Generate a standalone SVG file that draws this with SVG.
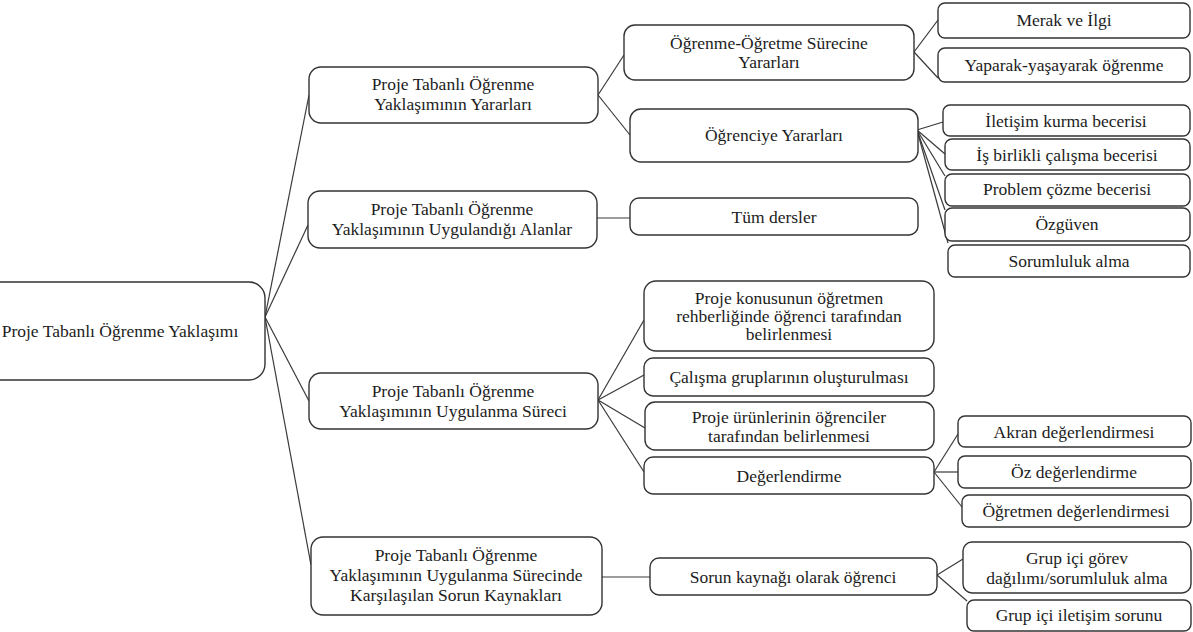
<svg xmlns="http://www.w3.org/2000/svg" width="1193" height="632" viewBox="0 0 1193 632">
<style>
.n{fill:#fff;stroke:#333;stroke-width:1.4}
.t{font-family:"Liberation Serif","Times New Roman",serif;font-size:17.5px;fill:#1c1c1c;text-anchor:middle}
.c line{stroke:#3a3a3a;stroke-width:1.2}
</style>
<rect width="1193" height="632" fill="#fff"/>
<g class="c" id="connectors">
<line x1="265" y1="317" x2="309" y2="95"/>
<line x1="265" y1="317" x2="308" y2="225"/>
<line x1="265" y1="317" x2="309" y2="401"/>
<line x1="265" y1="317" x2="311" y2="565"/>
<line x1="598" y1="95" x2="624" y2="55"/>
<line x1="598" y1="95" x2="630" y2="135"/>
<line x1="914" y1="52" x2="938" y2="20"/>
<line x1="914" y1="52" x2="938" y2="78"/>
<line x1="917" y1="130" x2="943" y2="122"/>
<line x1="917" y1="130" x2="945" y2="154"/>
<line x1="917" y1="130" x2="945" y2="176"/>
<line x1="917" y1="130" x2="945" y2="210"/>
<line x1="917" y1="130" x2="948" y2="243"/>
<line x1="597" y1="218" x2="630" y2="218"/>
<line x1="598" y1="400" x2="644" y2="320"/>
<line x1="598" y1="400" x2="644" y2="375"/>
<line x1="598" y1="400" x2="645" y2="428"/>
<line x1="598" y1="400" x2="644" y2="472"/>
<line x1="934" y1="472" x2="958" y2="434"/>
<line x1="934" y1="472" x2="958" y2="472"/>
<line x1="934" y1="472" x2="962" y2="507"/>
<line x1="602" y1="577" x2="650" y2="577"/>
<line x1="937" y1="575" x2="963" y2="559"/>
<line x1="937" y1="575" x2="967" y2="601"/>
</g>
<g id="root"><rect class="n" x="-20" y="282" width="285" height="98" rx="16"/><text class="t" x="120" y="337">Proje Tabanlı Öğrenme Yaklaşımı</text></g>
<g id="yararlar"><rect class="n" x="309" y="67" width="289" height="56" rx="12"/><text class="t" x="453" y="90">Proje Tabanlı Öğrenme</text><text class="t" x="453" y="110">Yaklaşımının Yararları</text></g>
<g id="alanlar"><rect class="n" x="308" y="191" width="289" height="57" rx="12"/><text class="t" x="452" y="215">Proje Tabanlı Öğrenme</text><text class="t" x="452" y="235">Yaklaşımının Uygulandığı Alanlar</text></g>
<g id="surec"><rect class="n" x="309" y="373" width="289" height="56" rx="12"/><text class="t" x="453" y="397">Proje Tabanlı Öğrenme</text><text class="t" x="453" y="417">Yaklaşımının Uygulanma Süreci</text></g>
<g id="sorunlar"><rect class="n" x="311" y="537" width="291" height="78" rx="12"/><text class="t" x="456" y="561">Proje Tabanlı Öğrenme</text><text class="t" x="456" y="581">Yaklaşımının Uygulanma Sürecinde</text><text class="t" x="456" y="601">Karşılaşılan Sorun Kaynakları</text></g>
<g id="ogrenme-ogretme"><rect class="n" x="624" y="25" width="290" height="55" rx="11"/><text class="t" x="769" y="49">Öğrenme-Öğretme Sürecine</text><text class="t" x="769" y="68">Yararları</text></g>
<g id="merak"><rect class="n" x="938" y="3" width="252" height="35" rx="7"/><text class="t" x="1064" y="26">Merak ve İlgi</text></g>
<g id="yaparak"><rect class="n" x="938" y="48" width="252" height="34" rx="7"/><text class="t" x="1064" y="71">Yaparak-yaşayarak öğrenme</text></g>
<g id="ogrenciye"><rect class="n" x="630" y="109" width="288" height="53" rx="11"/><text class="t" x="774" y="141">Öğrenciye Yararları</text></g>
<g id="iletisim"><rect class="n" x="943" y="105" width="247" height="31" rx="7"/><text class="t" x="1066" y="127">İletişim kurma becerisi</text></g>
<g id="isbirlikli"><rect class="n" x="945" y="139" width="245" height="31" rx="7"/><text class="t" x="1067" y="161">İş birlikli çalışma becerisi</text></g>
<g id="problem"><rect class="n" x="945" y="174" width="245" height="32" rx="7"/><text class="t" x="1067" y="195">Problem çözme becerisi</text></g>
<g id="ozguven"><rect class="n" x="945" y="208" width="245" height="33" rx="7"/><text class="t" x="1067" y="230">Özgüven</text></g>
<g id="sorumluluk"><rect class="n" x="948" y="245" width="242" height="32" rx="7"/><text class="t" x="1069" y="267">Sorumluluk alma</text></g>
<g id="tumdersler"><rect class="n" x="630" y="198" width="288" height="37" rx="9"/><text class="t" x="774" y="223">Tüm dersler</text></g>
<g id="konu"><rect class="n" x="644" y="281" width="290" height="70" rx="12"/><text class="t" x="789" y="304">Proje konusunun öğretmen</text><text class="t" x="789" y="322">rehberliğinde öğrenci tarafından</text><text class="t" x="789" y="340">belirlenmesi</text></g>
<g id="calisma"><rect class="n" x="644" y="358" width="290" height="38" rx="9"/><text class="t" x="789" y="383">Çalışma gruplarının oluşturulması</text></g>
<g id="urunler"><rect class="n" x="645" y="402" width="289" height="48" rx="10"/><text class="t" x="789" y="423">Proje ürünlerinin öğrenciler</text><text class="t" x="789" y="442">tarafından belirlenmesi</text></g>
<g id="degerlendirme"><rect class="n" x="644" y="457" width="290" height="37" rx="9"/><text class="t" x="789" y="482">Değerlendirme</text></g>
<g id="akran"><rect class="n" x="958" y="416" width="233" height="31" rx="7"/><text class="t" x="1074" y="438">Akran değerlendirmesi</text></g>
<g id="oz"><rect class="n" x="958" y="456" width="233" height="32" rx="7"/><text class="t" x="1074" y="478">Öz değerlendirme</text></g>
<g id="ogretmen"><rect class="n" x="962" y="495" width="229" height="32" rx="7"/><text class="t" x="1076" y="517">Öğretmen değerlendirmesi</text></g>
<g id="sorun"><rect class="n" x="650" y="558" width="287" height="37" rx="9"/><text class="t" x="793" y="583">Sorun kaynağı olarak öğrenci</text></g>
<g id="grupgorev"><rect class="n" x="963" y="542" width="228" height="51" rx="9"/><text class="t" x="1077" y="564">Grup içi görev</text><text class="t" x="1077" y="584">dağılımı/sorumluluk alma</text></g>
<g id="grupiletisim"><rect class="n" x="967" y="600" width="224" height="31" rx="7"/><text class="t" x="1079" y="621">Grup içi iletişim sorunu</text></g>
</svg>
